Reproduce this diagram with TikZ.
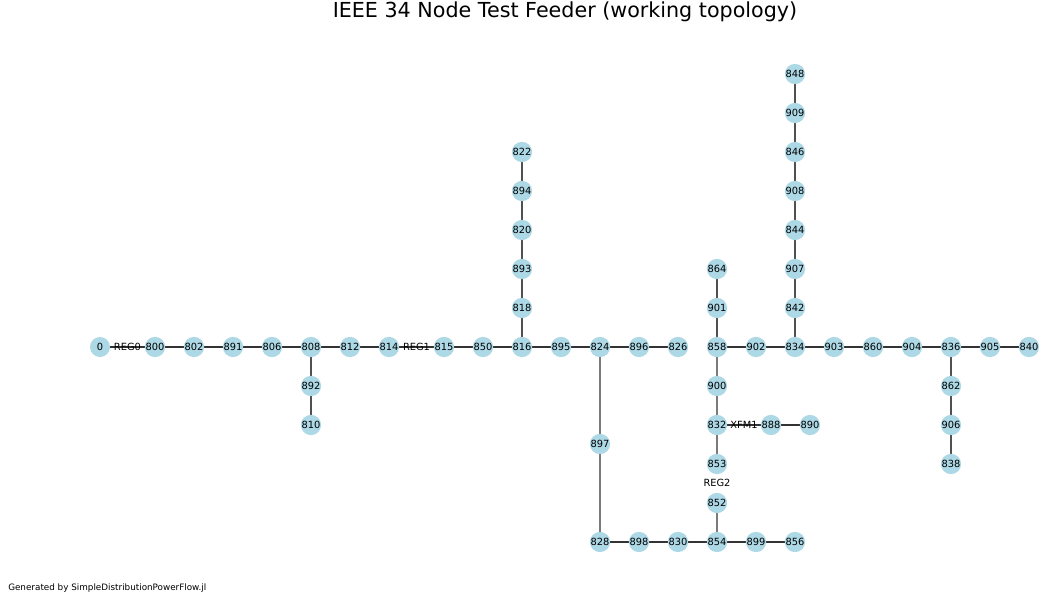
\documentclass[tikz,border=0pt]{standalone}
\usepackage{fontspec}
\setmainfont{DejaVu Sans}
\usetikzlibrary{backgrounds}
\definecolor{nodeblue}{HTML}{ADD8E6}
\definecolor{edgedark}{HTML}{333333}
\definecolor{edgemid}{HTML}{505050}
\definecolor{edgegray}{HTML}{7A7A7A}
\tikzset{
  bus/.style={circle, fill=nodeblue, inner sep=0pt, minimum size=15pt, font=\fontsize{7.4}{8}\selectfont},
  hline/.style={draw=edgedark, line width=1.1pt},
  vline/.style={draw=edgemid, line width=1.1pt},
  gline/.style={draw=edgegray, line width=1.5pt},
  elabel/.style={font=\fontsize{7.4}{8}\selectfont, inner sep=0pt},
}
\begin{document}
\begin{tikzpicture}[x=0.75pt,y=-0.75pt]
\useasboundingbox (0,0) rectangle (1062,603);
\node[font=\fontsize{15.5}{18}\selectfont] (title) at (565,12) {IEEE 34 Node Test Feeder (working topology)};
\node[anchor=west, font=\fontsize{6.6}{8}\selectfont, inner sep=0pt] (footer) at (8,588) {Generated by SimpleDistributionPowerFlow.jl};
% main row
\foreach \n/\x in {0/100,800/155,802/194,891/233,806/272,808/311,812/350,814/389,815/444,850/483,816/522,895/561,824/600,896/639,826/678,858/717,902/756,834/795,903/834,860/873,904/912,836/951,905/990,840/1029}
  \node[bus] (n\n) at (\x,347) {\n};
% branches
\node[bus] (n892) at (311,386) {892};
\node[bus] (n810) at (311,425) {810};
\foreach \n/\y in {818/308,893/269,820/230,894/191,822/152}
  \node[bus] (n\n) at (522,\y) {\n};
\foreach \n/\y in {842/308,907/269,844/230,908/191,846/152,909/113,848/74}
  \node[bus] (n\n) at (795,\y) {\n};
\foreach \n/\y in {901/308,864/269,900/386,832/425,853/464,852/503,854/542}
  \node[bus] (n\n) at (717,\y) {\n};
\node[bus] (n888) at (771,425) {888};
\node[bus] (n890) at (810,425) {890};
\node[bus] (n897) at (600,444) {897};
\foreach \n/\x in {828/600,898/639,830/678,899/756,856/795}
  \node[bus] (n\n) at (\x,542) {\n};
\foreach \n/\y in {862/386,906/425,838/464}
  \node[bus] (n\n) at (951,\y) {\n};
\node[elabel] (reg2) at (717,483) {REG2};
\begin{pgfonlayer}{background}
\draw[hline] (n0) -- node[elabel]{REG0} (n800);
\draw[hline] (n800) -- (n802) -- (n891) -- (n806) -- (n808) -- (n812) -- (n814);
\draw[hline] (n814) -- node[elabel]{REG1} (n815);
\draw[hline] (n815) -- (n850) -- (n816) -- (n895) -- (n824) -- (n896) -- (n826);
\draw[hline] (n858) -- (n902) -- (n834) -- (n903) -- (n860) -- (n904) -- (n836) -- (n905) -- (n840);
\draw[hline] (n828) -- (n898) -- (n830) -- (n854) -- (n899) -- (n856);
\draw[hline] (n832) -- node[elabel]{XFM1} (n888);
\draw[hline] (n888) -- (n890);
\draw[vline] (n808) -- (n892) -- (n810);
\draw[vline] (n816) -- (n818) -- (n893) -- (n820) -- (n894) -- (n822);
\draw[vline] (n834) -- (n842) -- (n907) -- (n844) -- (n908) -- (n846) -- (n909) -- (n848);
\draw[vline] (n858) -- (n901) -- (n864);
\draw[vline] (n836) -- (n862) -- (n906) -- (n838);
\draw[gline] (n824) -- (n897) -- (n828);
\draw[gline] (n858) -- (n900) -- (n832) -- (n853);
\draw[gline] (n852) -- (n854);
\end{pgfonlayer}
\end{tikzpicture}
\end{document}
